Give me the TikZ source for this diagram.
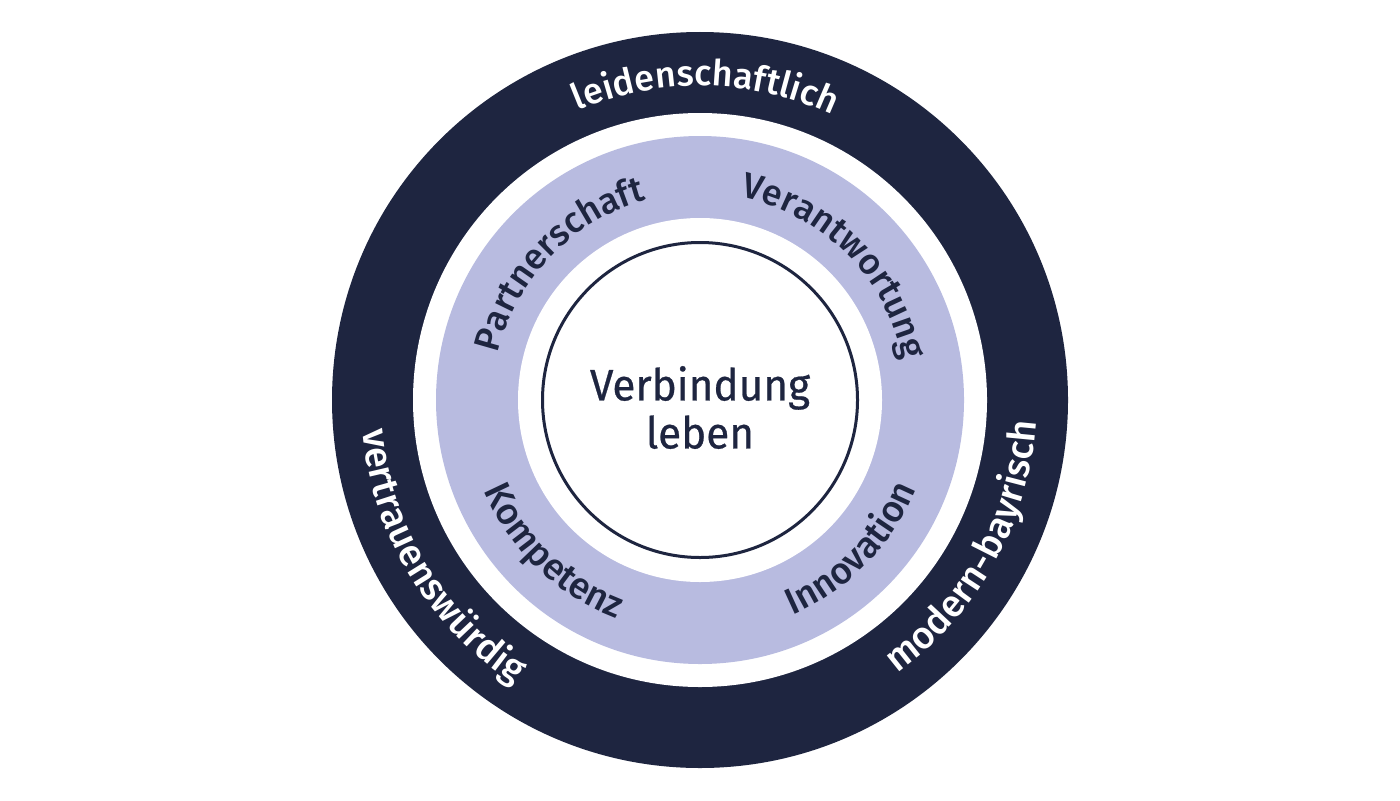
\documentclass[tikz,border=0pt]{standalone}
\usepackage{fontspec}
\setmainfont{Fira Sans}[UprightFont={* Medium}]
\newfontfamily\corefont{Fira Sans}[FakeStretch=0.96, FakeBold=0.6]
\usetikzlibrary{decorations.text}
\definecolor{navy}{RGB}{30,37,64}
\definecolor{lav}{RGB}{184,187,224}
\begin{document}
\begin{tikzpicture}[x=0.5pt,y=0.5pt,
  ringtext/.style n args={3}{decorate, decoration={text along path, text align=center,
     text color=#2, text={|\fontsize{#3}{20}\selectfont|#1}}}]
\useasboundingbox (0,0) rectangle (1400,800);
\fill[white] (0,0) rectangle (1400,800);
\coordinate (c) at (700,400);
% rings
\fill[navy] (c) circle[radius=368];
\fill[white] (c) circle[radius=287];
\fill[lav] (c) circle[radius=264];
\fill[white] (c) circle[radius=182];
\draw[navy, line width=1.5pt] (c) circle[radius=157.5];
% centre text
\node[align=center, text=navy, inner sep=0pt, font=\corefont\fontsize{22}{24}\selectfont] (core) at (700,392.5) {Verbindung\\leben};
% outer ring texts
\path[ringtext={leidenschaftlich}{white}{18}] (c) ++(149:314) arc[start angle=149, end angle=29, radius=314];
\path[ringtext={vertrauenswürdig}{white}{19}] (c) ++(151:339) arc[start angle=151, end angle=271, radius=339];
\path[ringtext={modern-bayrisch}{white}{19}] (c) ++(271:337) arc[start angle=271, end angle=391, radius=337];
% inner ring texts
\path[ringtext={Partnerschaft}{navy}{18}] (c) ++(196:207) arc[start angle=196, end angle=76, radius=207];
\path[ringtext={Verantwortung}{navy}{18}] (c) ++(105:207) arc[start angle=105, end angle=-15, radius=207];
\path[ringtext={Kompetenz}{navy}{18.5}] (c) ++(166:234) arc[start angle=166, end angle=286, radius=234];
\path[ringtext={Innovation}{navy}{18.5}] (c) ++(255.5:234) arc[start angle=255.5, end angle=375.5, radius=234];
\end{tikzpicture}
\end{document}
